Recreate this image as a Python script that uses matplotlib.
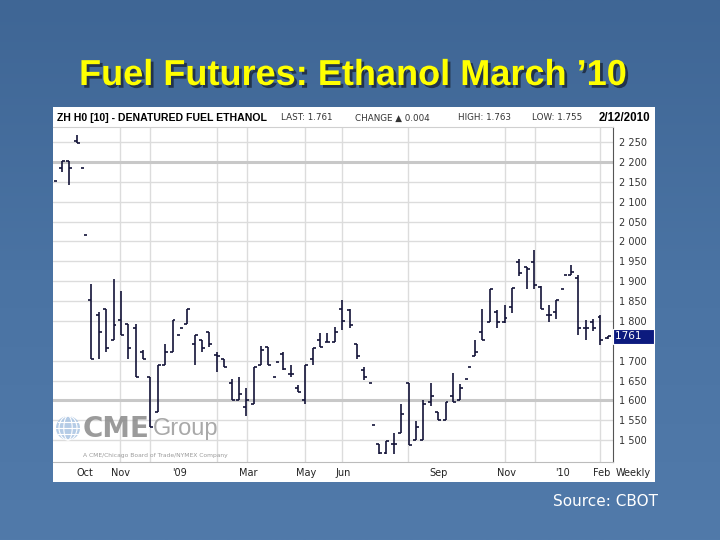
import matplotlib.pyplot as plt
import matplotlib.patheffects as pe
from matplotlib.patches import Rectangle, Ellipse
from matplotlib.colors import LinearSegmentedColormap
import matplotlib.transforms as mtransforms
import numpy as np

nan = np.nan

# weekly OHLC, ZH H0 (denatured fuel ethanol, March 2010), Sep 2008 - Feb 12 2010
open_ = [nan, 2184, 2203, 2253, 2184, 1852, 1814, 1831, 1751, 1802,
         1793, 1782, 1722, 1660, 1570, 1690, 1722, 1764, 1793, 1741,
         1751, 1773, 1714, 1703, 1643, 1600, 1583, 1592, 1688, 1735,
         1660, 1718, 1667, 1632, 1602, 1703, 1751, 1748, 1748, 1831,
         1827, 1741, 1676, 1644, 1491, 1468, 1491, 1517, 1643, 1501,
         1501, 1596, 1571, 1550, 1612, 1600, 1653, 1711, 1773, 1798,
         1823, 1797, 1835, 1949, 1935, 1949, 1886, 1814, 1823, 1881,
         1915, 1907, 1781, 1797, 1811, 1757]
high = [nan, 2203, 2203, 2268, nan, 1892, 1823, 1831, 1905, 1875,
        1793, 1793, 1727, 1660, 1690, 1741, 1802, nan, 1829, 1764,
        1751, 1773, 1722, 1703, 1653, 1660, 1630, 1683, 1738, 1735,
        nan, 1722, 1690, 1638, 1690, 1733, 1770, 1770, 1785, 1852,
        1831, 1741, 1685, nan, 1491, 1499, 1517, 1590, 1643, 1548,
        1602, 1644, 1571, 1597, 1668, 1641, nan, 1751, 1831, 1881,
        1827, 1839, 1884, 1957, 1935, 1978, 1889, 1839, 1852, nan,
        1940, 1915, 1802, 1804, 1814, 1763]
low = [nan, 2175, 2143, 2247, nan, 1703, 1703, 1722, 1751, 1764,
       1703, 1660, 1703, 1534, 1570, 1690, 1722, nan, 1793, 1690,
       1722, 1735, 1672, 1683, 1600, 1600, 1562, 1592, 1688, 1690,
       nan, 1676, 1660, 1621, 1592, 1688, 1735, 1748, 1748, 1778,
       1783, 1703, 1651, nan, 1466, 1466, 1466, 1517, 1489, 1501,
       1501, 1586, 1550, 1550, 1597, 1600, nan, 1711, 1753, 1798,
       1783, 1795, 1820, 1912, 1881, 1881, 1829, 1798, 1804, nan,
       1915, 1764, 1753, 1775, 1740, 1755]
close = [2152, 2203, 2185, 2248, 2016, 1703, 1771, 1733, 1790, 1764,
         1733, 1660, 1703, 1534, 1690, 1722, 1802, 1782, 1829, 1764,
         1733, 1741, 1711, 1683, 1600, 1615, 1602, 1683, 1726, 1690,
         1697, 1678, 1667, 1621, 1690, 1733, 1735, 1748, 1773, 1801,
         1789, 1711, 1660, 1537, 1468, 1498, 1491, 1567, 1489, 1532,
         1592, 1610, 1550, 1597, 1597, 1631, 1684, 1723, 1753, 1881,
         1798, 1807, 1884, 1921, 1930, 1891, 1829, 1814, 1852, 1915,
         1923, 1783, 1781, 1781, 1753, 1761]

month_labels = ['Oct', 'Nov', "'09", 'Mar', 'May', 'Jun', 'Sep', 'Nov', "'10", 'Feb']
month_pos = [4.1, 9.0, 17.0, 26.2, 34.1, 39.1, 52.0, 61.2, 68.9, 74.1]
grid_weeks = [8.9, 12.95, 22.0, 26.1, 34.0, 39.0, 47.9, 52.0, 61.1, 65.15, 73.95]
price_ticks = [v for v in range(1500, 2251, 50) if v != 1750]  # 1750 sits under the last-price box
last_price = 1761

SANS = ['Liberation Sans', 'DejaVu Sans']

fig = plt.figure(figsize=(7.2, 5.4), dpi=100)

# slide background in pixel coords
bg = fig.add_axes([0, 0, 1, 1], zorder=-1)
grad = np.linspace(0, 1, 256)[:, None]
cmap = LinearSegmentedColormap.from_list('slide', ['#3f6695', '#4a73a3', '#517aaa'])
bg.imshow(grad, aspect='auto', cmap=cmap, extent=[0, 720, 540, 0])
bg.add_patch(Rectangle((53, 107), 602, 375, facecolor='white', edgecolor='none'))
bg.set_xlim(0, 720)
bg.set_ylim(540, 0)
bg.axis('off')

# chart
ax = fig.add_axes([53 / 720, 1 - 462 / 540, 560 / 720, 335 / 540], zorder=2)
ax.set_facecolor('white')

x = np.arange(len(close))
o = np.array(open_, float)
h = np.array(high, float)
l = np.array(low, float)
c = np.array(close, float)
w = 0.4
col = '#131338'
m = ~np.isnan(h)
ax.vlines(x[m], l[m], h[m], color=col, lw=1.2, zorder=3)
m = ~np.isnan(o)
ax.hlines(o[m], x[m] - w, x[m], color=col, lw=1.2, zorder=3)
ax.hlines(c, x, x + w, color=col, lw=1.2, zorder=3)

ax.set_xlim(-0.2, 75.7)
ax.set_ylim(1445, 2288)

ax.yaxis.tick_right()
ax.set_yticks(price_ticks)
ax.set_yticklabels([f'{v // 1000} {v % 1000:03d}' for v in price_ticks],
                   fontsize=7, color='#333333')
ax.tick_params(axis='y', length=0, pad=4)
ax.set_xticks(month_pos)
ax.set_xticklabels(month_labels, fontsize=7, color='#222222')
ax.tick_params(axis='x', length=0, pad=4)
ax.set_xticks(grid_weeks, minor=True)
ax.tick_params(axis='x', which='minor', length=0)

ax.grid(True, axis='y', color='#dcdcdc', lw=1)
ax.grid(True, axis='x', which='minor', color='#dcdcdc', lw=1)
for v in (2200, 1600):
    ax.axhline(v, color='#c8c8c8', lw=2.2, zorder=1)
ax.set_axisbelow(True)

ax.spines['left'].set_visible(False)
ax.spines['top'].set_color('#d0d0d0')
ax.spines['bottom'].set_color('#bcbcbc')
ax.spines['right'].set_color('#555555')

# last price marker on the right scale
trans = mtransforms.blended_transform_factory(ax.transAxes, ax.transData)
ax.text(1.004, last_price, f'{last_price:>4d}   ', transform=trans, fontsize=7.5,
        color='white', va='center', ha='left', clip_on=False, zorder=10,
        bbox=dict(boxstyle='square,pad=0.25', facecolor='#0c1a7e', edgecolor='white', lw=0.8))

fig.text(633 / 720, 1 - 473 / 540, 'Weekly', fontsize=7, color='#222222', ha='center', va='center')

# header strip
hy = 1 - 118 / 540
fig.text(57 / 720, hy, 'ZH H0 [10] - DENATURED FUEL ETHANOL', family=SANS,
         fontsize=7.6, fontweight='bold', color='black', va='center')
fig.text(281 / 720, hy, 'LAST: 1.761', fontsize=6.3, color='#333333', va='center')
fig.text(355 / 720, hy, 'CHANGE \u25b2 0.004', fontsize=6.3, color='#333333', va='center')
fig.text(458 / 720, hy, 'HIGH: 1.763', fontsize=6.3, color='#333333', va='center')
fig.text(532 / 720, hy, 'LOW: 1.755', fontsize=6.3, color='#333333', va='center')
fig.text(599 / 720, hy, '2/12/2010', family=SANS, fontsize=8.3, fontweight='bold',
         color='black', va='center')

# CME Group watermark
gx, gy, gr = 68 / 720, 1 - 428 / 540, 12
fig.add_artist(Ellipse((gx, gy), 2 * gr / 720, 2 * gr / 540, transform=fig.transFigure,
                       facecolor='#a8c4e2', edgecolor='none', alpha=0.85, zorder=5))
for k in (0.35, 0.75):
    fig.add_artist(Ellipse((gx, gy), 2 * gr * k / 720, 2 * gr / 540, transform=fig.transFigure,
                           facecolor='none', edgecolor='white', lw=0.8, zorder=6))
for dy in (-6, 0, 6):
    half = np.sqrt(gr ** 2 - dy ** 2)
    fig.add_artist(plt.Line2D([gx - half / 720, gx + half / 720], [gy + dy / 540] * 2,
                              transform=fig.transFigure, color='white', lw=0.8, zorder=6))
fig.text(83 / 720, 1 - 429 / 540, 'CME', fontsize=20, fontweight='bold', color='#8a8a8a',
         alpha=0.85, va='center', zorder=5)
fig.text(153 / 720, 1 - 429 / 540, 'Group', family=SANS, fontsize=17, color='#9a9a9a',
         alpha=0.85, va='center', zorder=5)
fig.text(83 / 720, 1 - 455 / 540, 'A CME/Chicago Board of Trade/NYMEX Company', fontsize=4.3,
         color='#9a9a9a', va='center', zorder=5)

# slide title and source
fig.text(353 / 720, 1 - 85 / 540, "Fuel Futures: Ethanol March \u201910", family=SANS,
         fontsize=26, fontweight='bold', color='#ffff00', ha='center', va='baseline',
         path_effects=[pe.SimplePatchShadow(offset=(2, -2), shadow_rgbFace='#1b2638', alpha=0.8),
                       pe.Normal()])
fig.text(553 / 720, 1 - 501 / 540, 'Source: CBOT', fontsize=11, color='white', va='center')

fig.savefig('out.png', dpi=100)
